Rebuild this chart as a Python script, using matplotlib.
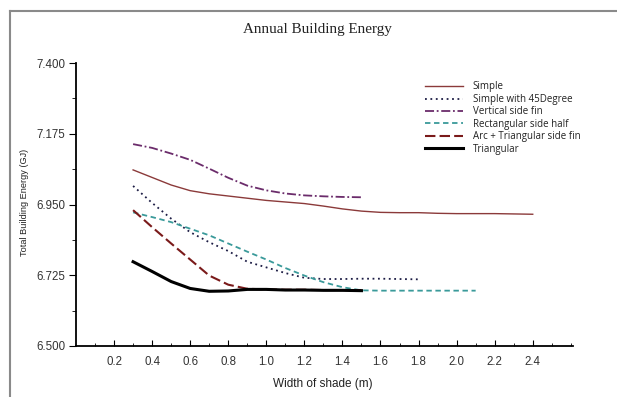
import matplotlib
matplotlib.use("Agg")
import matplotlib.pyplot as plt
from matplotlib.lines import Line2D
import numpy as np

# ---- data ----
x_simple = [0.3, 0.4, 0.5, 0.6, 0.7, 0.8, 0.9, 1.0, 1.1, 1.2, 1.3, 1.4, 1.5, 1.6, 1.7, 1.8, 1.9, 2.0, 2.1, 2.2, 2.3, 2.4]
y_simple = [7.060, 7.036, 7.012, 6.994, 6.984, 6.977, 6.970, 6.963, 6.958, 6.953, 6.945, 6.936, 6.929, 6.925, 6.924, 6.924, 6.922, 6.921, 6.921, 6.921, 6.920, 6.919]

x_45 = [0.3, 0.4, 0.5, 0.6, 0.7, 0.8, 0.9, 1.0, 1.1, 1.2, 1.3, 1.4, 1.5, 1.6, 1.7, 1.8]
y_45 = [7.009, 6.955, 6.905, 6.862, 6.830, 6.802, 6.768, 6.750, 6.732, 6.717, 6.713, 6.713, 6.714, 6.714, 6.713, 6.712]

x_vfin = [0.3, 0.4, 0.5, 0.6, 0.7, 0.8, 0.9, 1.0, 1.1, 1.2, 1.3, 1.4, 1.5]
y_vfin = [7.142, 7.130, 7.112, 7.092, 7.064, 7.035, 7.010, 6.995, 6.985, 6.979, 6.976, 6.974, 6.973]

x_rect = [0.3, 0.4, 0.5, 0.6, 0.7, 0.8, 0.9, 1.0, 1.1, 1.2, 1.3, 1.4, 1.5, 1.6, 1.7, 1.8, 1.9, 2.0, 2.1]
y_rect = [6.925, 6.910, 6.894, 6.873, 6.852, 6.826, 6.800, 6.775, 6.748, 6.724, 6.703, 6.687, 6.677, 6.676, 6.676, 6.676, 6.676, 6.676, 6.676]

x_arc = [0.3, 0.4, 0.5, 0.6, 0.7, 0.8, 0.9, 1.0, 1.1, 1.2, 1.3, 1.4, 1.5]
y_arc = [6.932, 6.878, 6.826, 6.775, 6.724, 6.695, 6.682, 6.680, 6.679, 6.679, 6.678, 6.678, 6.678]

x_tri = [0.3, 0.4, 0.5, 0.6, 0.7, 0.8, 0.9, 1.0, 1.1, 1.2, 1.3, 1.4, 1.5]
y_tri = [6.768, 6.737, 6.705, 6.683, 6.674, 6.675, 6.680, 6.680, 6.678, 6.678, 6.677, 6.677, 6.676]

labels = ["Simple", "Simple with 45Degree", "Vertical side fin",
          "Rectangular side half", "Arc + Triangular side fin", "Triangular"]

y_ticks = [6.500, 6.725, 6.950, 7.175, 7.400]
x_ticks = [0.2, 0.4, 0.6, 0.8, 1.0, 1.2, 1.4, 1.6, 1.8, 2.0, 2.2, 2.4]

# ---- figure ----
fig = plt.figure(figsize=(6.17, 3.97), dpi=100)
ax = fig.add_axes([76/617, 1-346/397, (572.7-76)/617, (346-63)/397])

styles = [
    dict(color="#8B3A3A", lw=1.0, ls="-"),
    dict(color="#1c1c44", lw=1.3, ls=(0, (1, 2))),
    dict(color="#6B2C6B", lw=1.3, ls=(0, (5, 1.5, 1, 1.5))),
    dict(color="#3A9A9A", lw=1.3, ls=(0, (3, 2))),
    dict(color="#7A1A1A", lw=1.5, ls=(0, (5, 2))),
    dict(color="#000000", lw=2.2, ls="-"),
]
series = [(x_simple, y_simple), (x_45, y_45), (x_vfin, y_vfin),
          (x_rect, y_rect), (x_arc, y_arc), (x_tri, y_tri)]
for (xs, ys), st in zip(series, styles):
    ax.plot(xs, ys, **st)

ax.set_xlim(0, 2.61)
ax.set_ylim(6.5, 7.4)
ax.set_xticks(x_ticks)
ax.set_xticklabels([f"{v:.1f}" for v in x_ticks])
ax.set_xticks(np.arange(0.1, 2.61, 0.1), minor=True)
ax.set_yticks(y_ticks)
ax.set_yticklabels([f"{v:.3f}" for v in y_ticks])
ax.set_yticks([6.6125, 6.8375, 7.0625, 7.2875], minor=True)

for s in ["top", "right"]:
    ax.spines[s].set_visible(False)
for s in ["left", "bottom"]:
    ax.spines[s].set_linewidth(1.3)

ax.tick_params(axis="x", which="major", direction="in", length=4, width=0.8,
               labelsize=8.3, labelcolor="#333333", pad=7)
ax.tick_params(axis="x", which="minor", direction="in", length=2, width=0.6)
ax.tick_params(axis="y", which="major", direction="out", length=5, width=0.8,
               labelsize=8.3, labelcolor="#333333", pad=2.5)
ax.tick_params(axis="y", which="minor", direction="out", length=3, width=0.6)

for lab in ax.get_xticklabels() + ax.get_yticklabels():
    lab.set_family("Liberation Sans")

fig.text(323/617, 1-384.5/397, "Width of shade (m)", ha="center", va="center",
         fontsize=8.5, family="Liberation Sans", color="#222222")
fig.text(25/617, 1-202/397, "Total Building Energy (GJ)", ha="center", va="center",
         rotation=90, fontsize=6.6, family="Liberation Sans", color="#222222")

fig.text(317/617, 1-29.5/397, "Annual Building Energy", ha="center", va="center",
         fontsize=10.9, family="Liberation Serif", color="#222222")

handles = [Line2D([0], [0], **st) for st in styles]
leg = fig.legend(handles, labels, loc="upper left", bbox_to_anchor=(425/617, 1-81.5/397),
                 frameon=False, handlelength=3.9, handletextpad=1.03,
                 labelspacing=0.15, borderpad=0, borderaxespad=0,
                 prop={"family": "Open Sans", "size": 7})
for t in leg.get_texts():
    t.set_color("#222222")

# border lines (top and left)
fig.add_artist(Line2D([10/617, 1], [1-10.5/397, 1-10.5/397], transform=fig.transFigure, color="#8a8a8a", lw=1.5))
fig.add_artist(Line2D([10/617, 10/617], [0, 1-10.5/397], transform=fig.transFigure, color="#8a8a8a", lw=1.5))

fig.savefig("out.png", dpi=100)
